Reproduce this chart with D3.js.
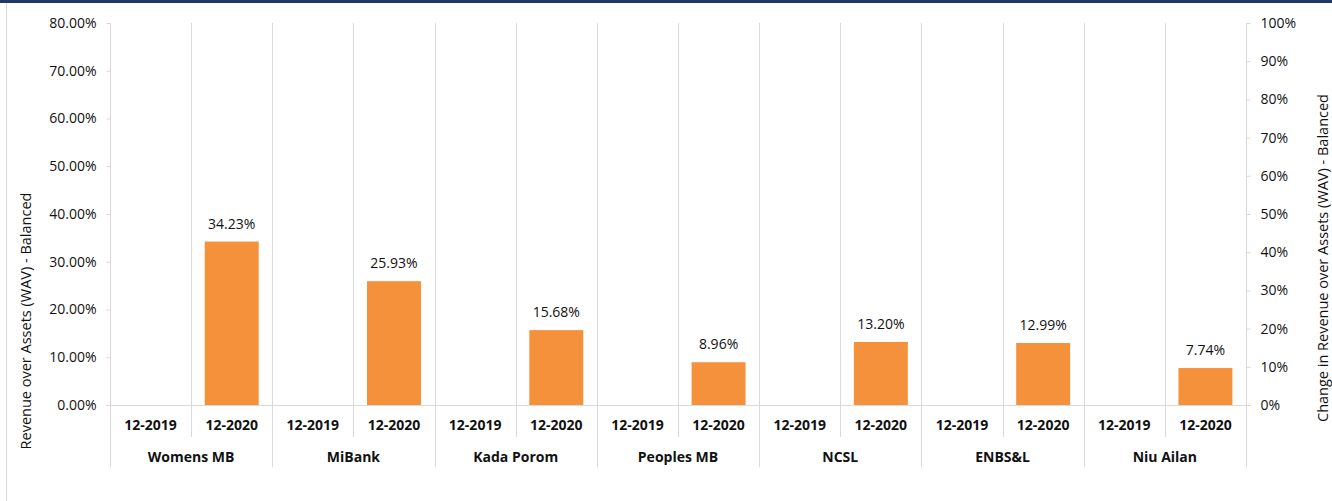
<!DOCTYPE html>
<html><head><meta charset="utf-8">
<script src="https://cdn.jsdelivr.net/npm/d3@7"></script>
<style>
body{margin:0;background:#fff;}
svg{display:block;font-family:"Open Sans", sans-serif;}
</style></head>
<body><svg id="c" width="1332" height="501"></svg>
<script>
const categories = ["Womens MB","MiBank","Kada Porom","Peoples MB","NCSL","ENBS&L","Niu Ailan"];
const periods = ["12-2019","12-2020"];
const values2019 = [null,null,null,null,null,null,null];
const values2020 = [0.3423,0.2593,0.1568,0.0896,0.1320,0.1299,0.0774];
const leftTicks = [0,0.1,0.2,0.3,0.4,0.5,0.6,0.7,0.8];
const rightTicks = [0,0.1,0.2,0.3,0.4,0.5,0.6,0.7,0.8,0.9,1.0];

const svg = d3.select("#c");
const L=110, R=1246, T=23, B=405;
const grid="#d9d9d9";
const txt="#111";

svg.append("rect").attr("x",0).attr("y",0).attr("width",1332).attr("height",3).attr("fill","#1f3864");
svg.append("line").attr("x1",6.5).attr("x2",6.5).attr("y1",3).attr("y2",501).attr("stroke",grid);

const x0 = d3.scaleBand().domain(categories).range([L,R]).padding(0);
const x1 = d3.scaleBand().domain(periods).range([0,x0.bandwidth()]).padding(0);
const y = d3.scaleLinear().domain([0,0.8]).range([B,T]);
const y2 = d3.scaleLinear().domain([0,1]).range([B,T]);

// vertical gridlines
const g = svg.append("g");
categories.forEach((c,i)=>{
  const xs = x0(c);
  g.append("line").attr("x1",Math.round(xs)+0.5).attr("x2",Math.round(xs)+0.5).attr("y1",T).attr("y2",467).attr("stroke",grid);
  const xm = xs + x1("12-2020");
  g.append("line").attr("x1",Math.round(xm)+0.5).attr("x2",Math.round(xm)+0.5).attr("y1",T).attr("y2",437).attr("stroke",grid);
});
g.append("line").attr("x1",R+0.5).attr("x2",R+0.5).attr("y1",T).attr("y2",467).attr("stroke",grid);
g.append("line").attr("x1",L-4).attr("x2",R).attr("y1",B+0.5).attr("y2",B+0.5).attr("stroke",grid);

// bars
const barW = x1.bandwidth()*0.665;
const data = [];
categories.forEach((c,i)=>{
  data.push({c, p:"12-2019", v:values2019[i]});
  data.push({c, p:"12-2020", v:values2020[i]});
});
const valid = data.filter(d=>d.v!=null);
svg.append("g").selectAll("rect").data(valid).join("rect")
  .attr("x",d=>x0(d.c)+x1(d.p)+(x1.bandwidth()-barW)/2)
  .attr("width",barW)
  .attr("y",d=>y(d.v))
  .attr("height",d=>B-y(d.v))
  .attr("fill","#f6913b");
svg.append("g").selectAll("text").data(valid).join("text")
  .attr("x",d=>x0(d.c)+x1(d.p)+x1.bandwidth()/2)
  .attr("y",d=>y(d.v)-13)
  .attr("text-anchor","middle")
  .attr("font-size",14).attr("fill",txt)
  .text(d=>d3.format(".2%")(d.v));

// left axis
const ax = svg.append("g").attr("transform",`translate(${L+0.5},0)`)
  .call(d3.axisLeft(y).tickValues(leftTicks).tickFormat(d3.format(".2%")).tickSize(4).tickPadding(10));
ax.select(".domain").attr("stroke",grid).attr("d",`M0,${T}V${B}`);
ax.selectAll(".tick line").attr("stroke",grid);
ax.selectAll("text").attr("font-size",14).attr("fill",txt).attr("font-family","Open Sans");

// right axis
const ax2 = svg.append("g").attr("transform",`translate(${R+0.5},0)`)
  .call(d3.axisRight(y2).tickValues(rightTicks).tickFormat(d3.format(".0%")).tickSize(4).tickPadding(10));
ax2.select(".domain").remove();
ax2.selectAll(".tick line").attr("stroke",grid);
ax2.selectAll("text").attr("font-size",14).attr("fill",txt).attr("font-family","Open Sans");

// x labels
const xl = svg.append("g");
categories.forEach(c=>{
  periods.forEach(p=>{
    xl.append("text").attr("x",x0(c)+x1(p)+x1.bandwidth()/2).attr("y",430)
      .attr("text-anchor","middle").attr("font-size",14).attr("font-weight","bold").attr("fill","#111").text(p);
  });
  xl.append("text").attr("x",x0(c)+x0.bandwidth()/2).attr("y",462)
    .attr("text-anchor","middle").attr("font-size",14).attr("font-weight","bold").attr("fill","#111").text(c);
});

// axis titles
svg.append("text").attr("transform","translate(31,321) rotate(-90)").attr("text-anchor","middle")
  .attr("font-size",14.5).attr("fill",txt).text("Revenue over Assets (WAV) - Balanced");
svg.append("text").attr("transform","translate(1328,258) rotate(-90)").attr("text-anchor","middle")
  .attr("font-size",14.5).attr("fill",txt).text("Change in Revenue over Assets (WAV) - Balanced");
</script></body></html>
